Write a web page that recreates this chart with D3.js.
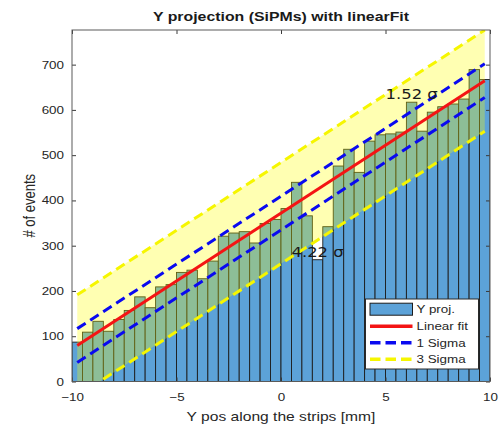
<!DOCTYPE html>
<html>
<head>
<meta charset="utf-8">
<script src="https://cdn.jsdelivr.net/npm/d3@7"></script>
<style>
  html, body { margin: 0; padding: 0; background: #ffffff; }
  svg { display: block; }
</style>
</head>
<body>
<svg id="chart" width="500" height="427"></svg>
<script>
// ---------------- data ----------------
const binLeft = [-10, -9.5, -9, -8.5, -8, -7.5, -7, -6.5, -6, -5.5,
                 -5, -4.5, -4, -3.5, -3, -2.5, -2, -1.5, -1, -0.5,
                 0, 0.5, 1, 1.5, 2, 2.5, 3, 3.5, 4, 4.5,
                 5, 5.5, 6, 6.5, 7, 7.5, 8, 8.5, 9, 9.5];
const binWidth = 0.5;
const counts = [87, 109, 133, 111, 137, 157, 187, 163, 209, 214,
                241, 246, 227, 266, 321, 328, 331, 306, 349, 358,
                382, 440, 366, 269, 342, 476, 513, 462, 531, 545,
                547, 551, 617, 553, 595, 607, 613, 624, 689, 667];
const fitIntercept = 372;
const fitSlope = 30;
const sigma = 37.3;
const fitRange = [-9.75, 9.75];
const annotations = [
  { bin: 23, text: "4.22 σ" },
  { bin: 32, text: "1.52 σ" }
];
const xDomain = [-10, 10];
const yDomain = [0, 776.5];
const xTicks = [-10, -5, 0, 5, 10];
const yTicks = [0, 100, 200, 300, 400, 500, 600, 700];
const legendItems = ["Y proj.", "Linear fit", "1 Sigma", "3 Sigma"];
const titleText = "Y projection (SiPMs) with linearFit";
const xLabelText = "Y pos along the strips [mm]";
const yLabelText = "# of events";

// ---------------- layout ----------------
const PL = 72, PR = 490, PT = 30, PB = 381.5;
const SX = 1.22; // horizontal text stretch seen in the reference
const FONT = "'Liberation Sans', Arial, Helvetica, sans-serif";
const COL_BAR = "#5ca2d8", COL_RED = "#f41414", COL_BLUE = "#0a0af0", COL_YEL = "#f6f600";

const svg = d3.select("#chart");
const x = d3.scaleLinear().domain(xDomain).range([PL, PR]);
const y = d3.scaleLinear().domain(yDomain).range([PB, PT]);
const fit = v => fitIntercept + fitSlope * v;

function stretchedText(g, px, py, str, opts) {
  return g.append("text")
    .attr("transform", `translate(${px},${py}) scale(${SX},1)`)
    .attr("font-family", opts.family || FONT)
    .attr("font-size", opts.size)
    .attr("font-weight", opts.weight || "normal")
    .attr("fill", opts.fill || "#262626")
    .attr("text-anchor", opts.anchor || "middle")
    .text(str);
}

svg.append("defs").append("clipPath").attr("id", "plotClip")
  .append("rect").attr("x", PL).attr("y", PT).attr("width", PR - PL).attr("height", PB - PT);

const plot = svg.append("g").attr("clip-path", "url(#plotClip)");

// bars
plot.append("g").selectAll("rect").data(binLeft).join("rect")
  .attr("x", (d) => x(d))
  .attr("width", (d) => x(d + binWidth) - x(d))
  .attr("y", (d, i) => y(counts[i]))
  .attr("height", (d, i) => y(0) - y(counts[i]))
  .attr("fill", COL_BAR)
  .attr("stroke", "#1c1c1c")
  .attr("stroke-width", 0.9);

// 3 sigma band (translucent yellow)
const band = d3.area()
  .x(d => x(d))
  .y0(d => y(fit(d) - 3 * sigma))
  .y1(d => y(fit(d) + 3 * sigma));
plot.append("path").datum(fitRange).attr("d", band)
  .attr("fill", "#ffff00").attr("fill-opacity", 0.3);

// lines
function fitLine(offset) {
  return d3.line().x(d => x(d)).y(d => y(fit(d) + offset))(fitRange);
}
const dash = "10,5.5";
[3, -3].forEach(k => plot.append("path").attr("d", fitLine(k * sigma))
  .attr("fill", "none").attr("stroke", COL_YEL).attr("stroke-width", 3).attr("stroke-dasharray", dash));
[1, -1].forEach(k => plot.append("path").attr("d", fitLine(k * sigma))
  .attr("fill", "none").attr("stroke", COL_BLUE).attr("stroke-width", 3).attr("stroke-dasharray", dash));
plot.append("path").attr("d", fitLine(0))
  .attr("fill", "none").attr("stroke", COL_RED).attr("stroke-width", 3);

// annotations
annotations.forEach(a => {
  const cx = x(binLeft[a.bin] + binWidth / 2);
  const cy = y(counts[a.bin]) - 3;
  stretchedText(svg, cx, cy, a.text, { size: 13.5, family: "'DejaVu Sans', sans-serif", fill: "#1a1a1a" });
});

// axes
const axG = svg.append("g");
const axLeft = axG.append("g").attr("transform", `translate(${PL},0)`)
  .call(d3.axisLeft(y).tickValues(yTicks).tickSizeInner(-4).tickSizeOuter(0).tickPadding(8));
const axBottom = axG.append("g").attr("transform", `translate(0,${PB})`)
  .call(d3.axisBottom(x).tickValues(xTicks).tickSizeInner(-4).tickSizeOuter(0).tickPadding(12));
const axRight = axG.append("g").attr("transform", `translate(${PR},0)`)
  .call(d3.axisRight(y).tickValues(yTicks).tickSizeInner(-4).tickSizeOuter(0).tickFormat(""));
const axTop = axG.append("g").attr("transform", `translate(0,${PT})`)
  .call(d3.axisTop(x).tickValues(xTicks).tickSizeInner(-4).tickSizeOuter(0).tickFormat(""));
[axLeft, axBottom, axRight, axTop].forEach(g => {
  g.select(".domain").remove();
  g.selectAll(".tick line").attr("stroke", "#3a3a3a");
});
axLeft.selectAll(".tick text").each(function () {
  d3.select(this).attr("transform", `translate(-8,0) scale(${SX},1)`).attr("x", 0)
    .attr("font-size", 11).attr("font-family", FONT).attr("fill", "#262626");
});
axBottom.selectAll(".tick text").each(function () {
  d3.select(this).attr("transform", `translate(0,12) scale(${SX},1)`).attr("y", 0)
    .attr("font-size", 11).attr("font-family", FONT).attr("fill", "#262626");
});

// box
axG.append("rect").attr("x", PL).attr("y", PT).attr("width", PR - PL).attr("height", PB - PT)
  .attr("fill", "none").attr("stroke", "#5a5a5a").attr("stroke-width", 1);

// title and labels
stretchedText(svg, (PL + PR) / 2, 21, titleText, { size: 13, weight: "bold", fill: "#1a1a1a" });
stretchedText(svg, (PL + PR) / 2, 421, xLabelText, { size: 12.8 });
svg.append("text")
  .attr("transform", `translate(35,${(PT + PB) / 2}) rotate(-90) scale(1,${SX})`)
  .attr("font-family", FONT).attr("font-size", 13).attr("fill", "#262626")
  .attr("text-anchor", "middle").text(yLabelText);

// legend
const lg = svg.append("g");
const lx = 365.5, ly = 299, lw = 113, lh = 70;
lg.append("rect").attr("x", lx).attr("y", ly).attr("width", lw).attr("height", lh)
  .attr("fill", "#ffffff").attr("stroke", "#2a2a2a").attr("stroke-width", 1);
const rowY = [309.2, 326.3, 342.8, 359.2];
legendItems.forEach((name, i) => {
  const yy = rowY[i];
  if (i === 0) {
    lg.append("rect").attr("x", 370).attr("y", yy - 6).attr("width", 42.5).attr("height", 12)
      .attr("fill", COL_BAR).attr("stroke", "#1c1c1c").attr("stroke-width", 1);
  } else {
    const col = i === 1 ? COL_RED : (i === 2 ? COL_BLUE : COL_YEL);
    const ln = lg.append("line").attr("x1", 370).attr("x2", 412.5).attr("y1", yy).attr("y2", yy)
      .attr("stroke", col).attr("stroke-width", 3.5);
    if (i > 1) ln.attr("stroke-dasharray", "10.5,5");
  }
  stretchedText(lg, 416.5, yy + 3.9, name, { size: 11, anchor: "start" });
});
</script>
</body>
</html>
